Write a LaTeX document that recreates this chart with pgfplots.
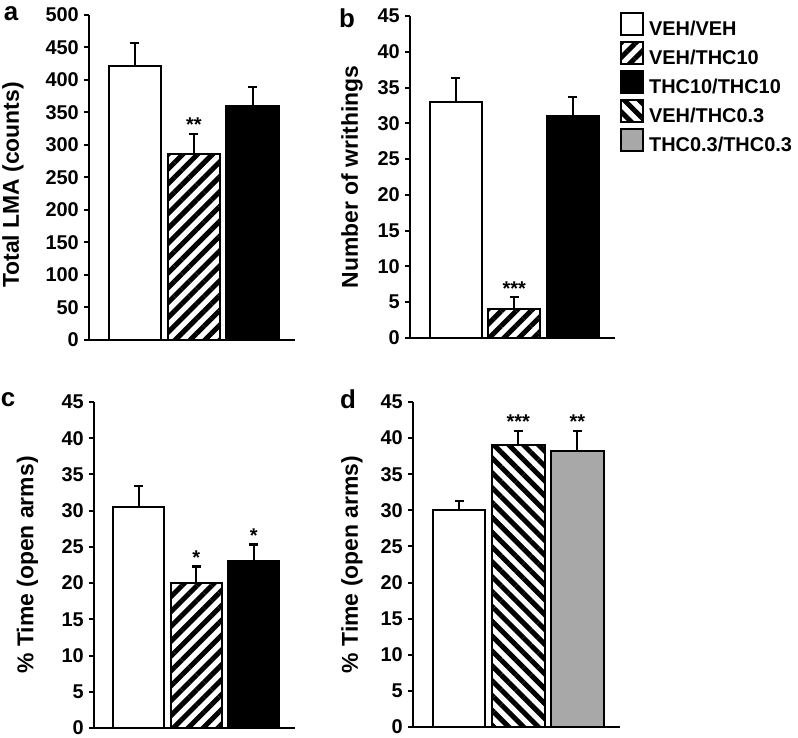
\documentclass[border=0pt]{standalone}
\usepackage{pgfplots}
\pgfplotsset{compat=1.18}
\usetikzlibrary{patterns.meta}
\usepackage{fontspec}
\setmainfont{Liberation Sans}
\definecolor{bargray}{RGB}{168,168,168}
\newcommand\tickfont{\bfseries\fontsize{20}{24}\selectfont}
\newcommand\labfont{\bfseries\fontsize{23}{27}\selectfont}
\newcommand\letfont{\bfseries\fontsize{26}{30}\selectfont}
\pgfplotsset{
  panel/.style={
    scale only axis, anchor=south west,
    axis x line=bottom, axis y line=left,
    axis line style={line width=2bp,-},
    xmin=0.22, xmax=3.72, ymin=0,
    xtick=\empty,
    ytick style={line width=2bp,black},
    tick align=outside, major tick length=5bp,
    /pgf/number format/assume math mode=true,
    yticklabel style={font=\tickfont, inner sep=0pt, xshift=-5bp},
    ylabel style={font=\labfont, anchor=center},
    ybar, bar width=0.89, bar shift=0pt,
    error bars/y dir=plus, error bars/y explicit,
    error bars/error bar style={line width=2bp, black},
    error bars/error mark=-,
    error bars/error mark options={rotate=90, line width=2.5bp, mark size=4.5bp, black},
    clip=false,
  },
  boxlegend/.style={legend image code/.code={\draw[##1, line width=2bp] (0bp,-6bp) rectangle (22bp,16bp);}},
  whitebar/.style={draw=black, line width=2bp, fill=white, boxlegend},
  hatchA/.style={draw=black, line width=2bp, pattern={Lines[angle=45,distance=10.5bp,line width=5bp]}, pattern color=black, boxlegend},
  blackbar/.style={draw=black, line width=2bp, fill=black, boxlegend},
  hatchB/.style={draw=black, line width=2bp, pattern={Lines[angle=-45,distance=10.5bp,line width=5bp]}, pattern color=black, boxlegend},
  graybar/.style={draw=black, line width=2bp, fill=bargray, boxlegend},
}
\begin{document}
\begin{tikzpicture}
\useasboundingbox (0,0) rectangle (798bp,738bp);
% panel a
\begin{axis}[panel, at={(89bp,398bp)}, width=206bp, height=325bp,
  ymax=500, ytick={0,50,...,500},
  ylabel={Total LMA (counts)},
  ylabel style={at={(axis description cs:-0.369,0.477)}}]
\addplot[whitebar] coordinates {(1,422) +- (0,35)};
\addplot[hatchA] coordinates {(2,286) +- (0,31)};
\addplot[blackbar] coordinates {(3,360) +- (0,29)};
\node[anchor=base, font=\tickfont, inner sep=0pt] at (axis cs:2,320) {**};
\end{axis}
% panel b
\begin{axis}[panel, at={(410bp,400bp)}, width=205bp, height=322bp,
  ymax=45, ytick={0,5,...,45},
  ylabel={Number of writhings},
  ylabel style={at={(axis description cs:-0.283,0.5)}},
  legend style={at={(rel axis cs:1.024,1.012)}, anchor=north west, draw=none, fill=none,
    inner sep=0pt, row sep=4bp, font=\tickfont, nodes={inner xsep=5bp, inner ysep=0pt}},
  legend cell align=left]
\addplot[whitebar] coordinates {(1,33.0) +- (0,3.3)};
\addlegendentry{VEH/VEH}
\addplot[hatchA] coordinates {(2,4.0) +- (0,1.7)};
\addlegendentry{VEH/THC10}
\addplot[blackbar] coordinates {(3,31.0) +- (0,2.7)};
\addlegendentry{THC10/THC10}
\addlegendimage{hatchB}
\addlegendentry{VEH/THC0.3}
\addlegendimage{graybar}
\addlegendentry{THC0.3/THC0.3}
\node[anchor=base, font=\tickfont, inner sep=0pt] at (axis cs:2,5.9) {***};
\end{axis}
% panel c
\begin{axis}[panel, at={(94bp,10bp)}, width=201bp, height=326bp,
  ymax=45, ytick={0,5,...,45},
  ylabel={\% Time (open arms)},
  ylabel style={at={(axis description cs:-0.331,0.5)}}]
\addplot[whitebar] coordinates {(1,30.5) +- (0,2.9)};
\addplot[hatchA] coordinates {(2,20.0) +- (0,2.3)};
\addplot[blackbar] coordinates {(3,23.0) +- (0,2.3)};
\node[anchor=base, font=\tickfont, inner sep=0pt] at (axis cs:2,22.6) {*};
\node[anchor=base, font=\tickfont, inner sep=0pt] at (axis cs:3,25.6) {*};
\end{axis}
% panel d
\begin{axis}[panel, at={(413bp,11bp)}, width=207bp, height=325bp,
  ymax=45, ytick={0,5,...,45},
  ylabel={\% Time (open arms)},
  ylabel style={at={(axis description cs:-0.295,0.5)}}]
\addplot[whitebar] coordinates {(1,30.0) +- (0,1.3)};
\addplot[hatchB] coordinates {(2,39.0) +- (0,2.0)};
\addplot[graybar] coordinates {(3,38.2) +- (0,2.8)};
\node[anchor=base, font=\tickfont, inner sep=0pt] at (axis cs:2,41.3) {***};
\node[anchor=base, font=\tickfont, inner sep=0pt] at (axis cs:3,41.3) {**};
\end{axis}
% panel letters
\node[font=\letfont, inner sep=0pt] at (11bp,724bp) {a};
\node[font=\letfont, inner sep=0pt] at (347bp,720bp) {b};
\node[font=\letfont, inner sep=0pt] at (8bp,338bp) {c};
\node[font=\letfont, inner sep=0pt] at (348bp,339bp) {d};
\end{tikzpicture}
\end{document}
